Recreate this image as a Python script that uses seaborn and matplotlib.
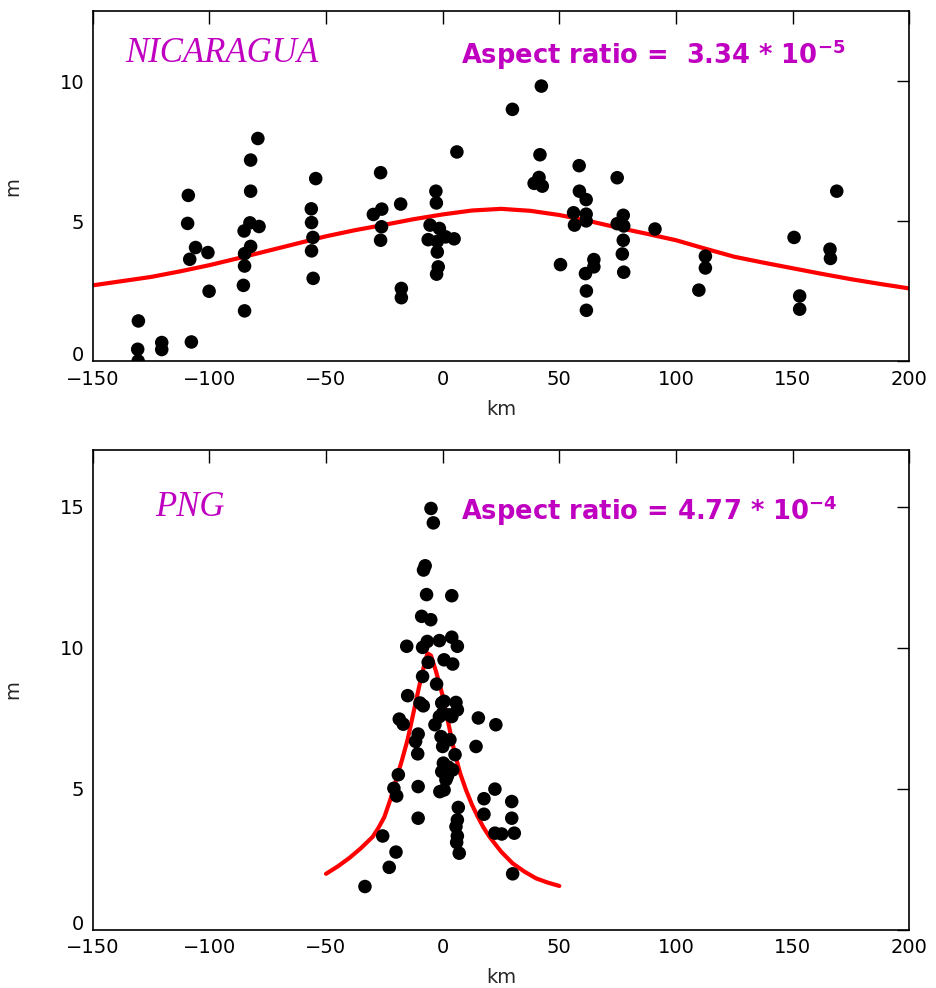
import numpy as np
import pandas as pd
import matplotlib
matplotlib.use("Agg")
import matplotlib.pyplot as plt
import matplotlib.transforms as mtransforms
import seaborn as sns

# ---- Nicaragua data (km, m) ----
nic_x = [-130.4, -130.7, -130.5, -120.4, -120.4, -107.7, -109.0, -109.3, -105.9, -108.4,
         -100.6, -100.1, -82.3, -82.6, -78.7, -85.1, -82.3, -84.9, -84.9, -85.4,
         -84.9, -82.3, -79.2,
         -54.4, -56.3, -56.2, -55.6, -56.2, -55.5,
         -26.6, -26.1, -29.7, -26.2, -26.6, -18.0, -17.7, -17.7,
         6.1, -2.9, -2.7, -5.4, -1.4, -6.2, -2.3, 1.3, 4.9, -2.3, -1.9, -2.6,
         42.3, 29.9, 41.7, 41.3, 39.2, 42.7,
         58.5, 58.6, 61.5, 56.1, 61.5, 56.5, 61.5, 50.5, 64.8, 64.8, 61.2, 61.6, 61.6,
         74.8, 77.4, 74.8, 77.6, 77.4, 77.0, 77.6, 91.0,
         112.6, 112.6, 109.8, 150.6, 153.0, 153.0, 166.0, 166.2, 168.9]
nic_y = [1.44, 0.43, 0.01, 0.67, 0.42, 0.69, 5.92, 4.92, 4.06, 3.64,
         3.88, 2.50, 6.07, 4.94, 4.81, 4.65, 4.10, 3.84, 3.40, 2.71,
         1.80, 7.18, 7.95,
         6.52, 5.44, 4.95, 4.42, 3.94, 2.96,
         6.73, 5.43, 5.24, 4.80, 4.32, 5.61, 2.60, 2.27,
         7.47, 6.07, 5.65, 4.86, 4.74, 4.34, 4.28, 4.44, 4.37, 3.90, 3.37, 3.11,
         9.82, 8.99, 7.37, 6.56, 6.35, 6.25,
         6.98, 6.07, 5.77, 5.30, 5.25, 4.86, 5.01, 3.45, 3.63, 3.37, 3.13, 2.51, 1.82,
         6.55, 5.21, 4.91, 4.83, 4.32, 3.83, 3.18, 4.72,
         3.75, 3.33, 2.54, 4.42, 2.33, 1.86, 4.00, 3.67, 6.07]

# fitted curve
nic_cx = [-150, -137.5, -125, -112.5, -100, -87.5, -75, -62.5, -50, -37.5, -25, -12.5,
          0, 12.5, 25, 37.5, 50, 62.5, 75, 87.5, 100, 112.5, 125, 137.5, 150, 162.5,
          175, 187.5, 200]
nic_cy = [2.71, 2.86, 3.01, 3.21, 3.43, 3.68, 3.94, 4.20, 4.46, 4.68, 4.87, 5.07,
          5.24, 5.38, 5.44, 5.37, 5.22, 5.01, 4.77, 4.55, 4.32, 4.02, 3.73, 3.52, 3.32, 3.12,
          2.93, 2.76, 2.60]

# ---- PNG data (km, m) ----
png_x = [-5.0, -4.0, -8.2, -7.5, -6.9, 3.9, -9.0, -5.1, -15.4, -6.6, -8.6, -1.4, 3.9, 6.3,
         0.6, 4.3, -6.2, -8.6, -2.6, -15.0, -9.7, -8.3, -0.4, 0.6, 5.7, 6.3, 0.0, -1.4,
         3.9, -3.3, 2.8, -18.6, -16.9, 15.3, 22.8, -10.5, -11.6, -10.7, -0.7, 3.1, 0.0,
         14.3, 5.3, 0.3, 2.4, -0.4, 2.0, 4.3, 1.4, 0.6, -1.2, -19.0, -20.9, -19.7, -10.5,
         -10.5, 6.7, 6.3, 5.7, 6.3, 6.0, 7.1, 22.4, 17.7, 17.7, 29.6, 29.6, 30.7, 22.4,
         25.3, 30.0, -25.7, -20.0, -22.9, -33.3]
png_y = [14.93, 14.42, 12.75, 12.90, 11.88, 11.84, 11.11, 10.99, 10.05, 10.22, 10.01, 10.25,
         10.37, 10.05, 9.57, 9.42, 9.48, 8.98, 8.71, 8.30, 8.04, 7.94, 8.04, 8.10, 8.06, 7.80,
         7.68, 7.56, 7.56, 7.27, 7.62, 7.47, 7.29, 7.51, 7.27, 6.94, 6.68, 6.24, 6.85, 6.74,
         6.50, 6.50, 6.21, 5.91, 5.77, 5.61, 5.44, 5.67, 5.32, 4.96, 4.90, 5.50, 5.02, 4.75,
         5.08, 3.96, 4.34, 3.90, 3.66, 3.33, 3.10, 2.72, 4.99, 4.65, 4.10, 4.55, 3.96, 3.43,
         3.43, 3.40, 1.99, 3.33, 2.76, 2.22, 1.54]

png_cx = [-50, -45, -40, -35, -30, -27.5, -25, -22.5, -20, -17.5, -15, -12.5, -10, -8,
          -6.5, -5, -3, -1.5, 0, 2.5, 5, 7.5, 10, 12.5, 15, 17.5, 20, 25, 30, 35, 40, 45, 50]
png_cy = [1.99, 2.25, 2.55, 2.90, 3.30, 3.62, 4.00, 4.60, 5.30, 6.00, 6.75, 7.70, 8.65, 9.35,
          9.80, 9.72, 9.20, 8.75, 8.30, 7.30, 6.32, 5.55, 4.96, 4.45, 4.02, 3.63, 3.31,
          2.78, 2.36, 2.07, 1.83, 1.68, 1.56]

x_ticks = [-150, -100, -50, 0, 50, 100, 150, 200]
x_tick_labels = ["\u2212150", "\u2212100", "\u221250", "0", "50", "100", "150", "200"]

sns.set_style("white")
plt.rcParams['font.family'] = ['DejaVu Sans']

fig = plt.figure(figsize=(9.36, 9.88), dpi=100)
ax1 = fig.add_axes([0.099, 0.6343, 0.8725, 0.3546])
ax2 = fig.add_axes([0.099, 0.0587, 0.8725, 0.4858])

magenta = "#C000C0"

def style(ax, ylim, yticks):
    ax.set_xlim(-150, 200)
    ax.set_ylim(*ylim)
    ax.set_xticks(x_ticks)
    ax.set_xticklabels(x_tick_labels)
    ax.set_yticks(yticks)
    ax.tick_params(direction="in", length=9, width=1.0, top=True, right=True,
                   labelsize=14, colors="black", pad=6)
    for s in ax.spines.values():
        s.set_color("black")
        s.set_linewidth(1.2)
        s.set_visible(True)
    ax.set_xlabel("km", fontsize=14, labelpad=8)
    ax.set_ylabel("m", fontsize=14, labelpad=27)
    # lift the "0" y tick label so it clears the x tick labels
    lab0 = ax.get_yticklabels()[0]
    lab0.set_transform(lab0.get_transform() +
                       mtransforms.ScaledTranslation(0, 8 / 100, fig.dpi_scale_trans))

nic = pd.DataFrame({"km": nic_x, "m": nic_y})
nicc = pd.DataFrame({"km": nic_cx, "m": nic_cy})
png = pd.DataFrame({"km": png_x, "m": png_y})
pngc = pd.DataFrame({"km": png_cx, "m": png_cy})

sns.lineplot(data=nicc, x="km", y="m", ax=ax1, color="red", linewidth=3, zorder=2)
sns.scatterplot(data=nic, x="km", y="m", ax=ax1, color="black", s=95, edgecolor="none", zorder=3)
sns.lineplot(data=pngc, x="km", y="m", ax=ax2, color="red", linewidth=3, zorder=2)
sns.scatterplot(data=png, x="km", y="m", ax=ax2, color="black", s=95, edgecolor="none", zorder=3)

style(ax1, (0, 12.5), [0, 5, 10])
style(ax2, (0, 17), [0, 5, 10, 15])

ax1.text(-136, 11.0, "NICARAGUA", fontsize=25, style="italic", family="Liberation Serif",
         color=magenta, va="center", ha="left")
ax1.text(8, 10.95, r"Aspect ratio =  3.34 * 10$^{\mathbf{-5}}$", fontsize=18.5, fontweight="bold",
         color=magenta, va="center", ha="left")
ax2.text(-123, 14.95, "PNG", fontsize=25, style="italic", family="Liberation Serif",
         color=magenta, va="center", ha="left")
ax2.text(8, 14.85, r"Aspect ratio = 4.77 * 10$^{\mathbf{-4}}$", fontsize=18.5, fontweight="bold",
         color=magenta, va="center", ha="left")

fig.savefig("out.png", dpi=100)
